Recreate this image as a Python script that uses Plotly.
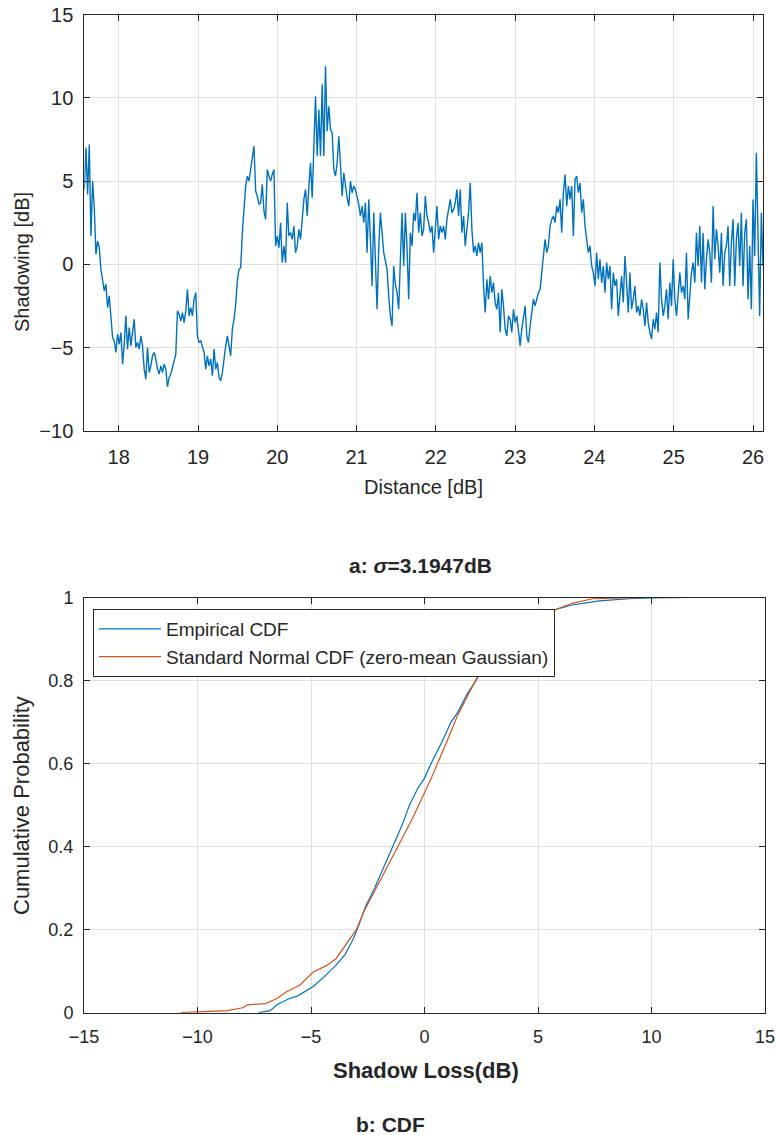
import numpy as np
import plotly.graph_objects as go

# ---- shadowing measurement (dB) over the distance axis (dB) ----
DIST_START_DB = 17.566
DIST_STOP_DB = 26.126

shadowing_db = [
    4.5, 7.0, 4.2, 7.2, 1.7, 5.0, 3.4, 0.6, 1.4, 1.0,
    -0.3, -1.0, -1.6, -1.2, -2.6, -1.9, -3.4, -4.4, -4.6, -5.3,
    -4.2, -4.8, -4.1, -6.0, -4.8, -3.1, -5.1, -3.8, -4.9, -4.1,
    -3.3, -5.0, -4.7, -5.1, -4.3, -4.9, -6.3, -6.9, -5.0, -6.5,
    -6.1, -5.5, -5.3, -5.7, -6.3, -6.6, -6.1, -6.5, -6.0, -6.3,
    -7.35, -6.8, -6.6, -6.2, -5.8, -5.4, -2.8, -3.0, -3.4, -2.9,
    -3.5, -2.8, -1.5, -3.1, -2.6, -3.1, -2.1, -1.7, -4.3, -4.7,
    -4.6, -4.9, -5.3, -6.3, -5.5, -6.1, -5.7, -6.7, -5.1, -6.3,
    -5.9, -6.8, -7.0, -6.5, -5.5, -4.9, -4.3, -4.9, -5.5, -3.9,
    -3.3, -2.4, -1.0, -0.3, -0.2, 1.9, 3.5, 4.7, 5.3, 5.0,
    5.7, 6.5, 7.1, 4.4, 4.1, 3.6,
    3.7, 4.8, 3.2, 2.7, 5.7, 5.3, 5.0, 5.4, 5.7, 1.1,
    1.7, 1.0, 2.5, 0.1, 1.1, 0.1, 3.7, 1.7, 1.9, 1.5,
    2.3, 0.7, 1.1, 2.1, 1.5, 2.7, 3.9, 4.5, 2.9, 4.7,
    6.1, 4.0, 6.7, 10.1, 6.5, 9.3, 6.5, 10.8, 6.5, 11.9,
    8.0, 9.5, 8.1, 7.9, 5.7, 5.3, 6.1, 7.7, 6.0, 4.1,
    5.5, 4.7, 4.0, 3.5, 5.0, 4.3, 4.7, 4.5, 4.1, 3.6,
    2.9, 3.5, 2.5, 3.7, 0.7, 3.9, 1.5, -1.3, 3.1, -0.3,
    -2.7, 1.0, 3.1, 1.9, 0.7, 0.2, -0.3, -1.9, -3.1, -3.7,
    -0.1, -1.2, -1.7, -2.7, 1.0, 3.1, -0.1, 3.1, 1.0, -2.1,
    1.9, 1.1, 3.1, 2.6, 4.3, 1.9, 3.1, 1.7, 2.1, 4.1,
    2.9, 2.5, 1.9, 2.3, 0.7, 1.9, 3.5, 1.5,
    2.3, 1.9, 2.3, 1.5, 2.7, 3.3, 3.9, 3.1, 3.3, 3.7,
    4.5, 2.9, 4.5, 1.9, 2.9, 1.1, 2.1, 3.1, 4.9, 2.1,
    0.7, 1.1, 0.5, 1.3, 0.7, 1.3, -1.3, -2.9, -0.9, -2.1,
    -0.7, -1.7, -1.1, -2.3, -2.7, -1.7, -4.1, -1.5, -2.5, -3.9,
    -4.3, -3.1, -3.3, -4.1, -2.7, -3.5, -3.1, -4.1, -4.9, -3.9,
    -3.3, -2.5, -4.3, -4.7, -3.7, -2.9, -2.1, -2.5, -2.1, -1.7,
    -1.5, -0.5, 0.1, 1.5, 0.7, 1.1, 2.3, 2.7, 2.9, 2.5,
    3.5, 3.1, 3.9, 1.9, 4.3, 5.4, 3.5, 4.7, 3.9, 4.7,
    1.7, 5.1, 5.3, 4.3, 4.9, 3.1, 3.9, 2.3, 1.5, 0.7,
    1.1, -0.1, -0.5, -1.3, 0.7, -0.9, 0.3, -1.1, -0.1, -1.7,
    0.1, -0.9, -0.1, -2.7, -0.5, -1.3, -0.9, -3.1,
    -1.9, -0.7, -2.3, 0.5, -1.1, -2.9, -0.5, -2.7, -2.1, -1.3,
    -2.9, -2.5, -3.1, -2.1, -2.7, -3.7, -2.3, -3.5, -4.1, -4.5,
    -3.3, -3.9, -2.9, -4.1, 0.1, -2.1, -3.1, -2.5, -1.5, -3.3,
    -1.1, -2.5, 0.3, -2.1, -3.1, -1.7, -0.5, -1.7, -1.3, -2.1,
    0.7, -3.3, -1.7, -0.5, 0.1, -1.1, 1.9, -0.1, 2.3, -1.1,
    1.9, -1.5, 0.3, 1.5, 0.7, -1.1, 3.5, 0.3, 2.1, 1.1,
    -0.5, 1.9, -1.3, 0.7, 1.1, 2.3, -1.3, 1.3, 2.7, -1.3,
    1.5, 2.5, -0.1, 3.1, -1.3, 1.9, 2.7, -2.1, 1.1, -2.7,
    3.9, 0.5, 6.7, 1.5, -3.1, 3.1, -0.1,
]

# ---- empirical CDF of the shadow loss ----
ecdf_loss_db = [-7.3, -6.8, -6.5, -6.0, -5.6, -4.9, -4.33, -3.89, -3.5, -3.15,
                -2.9, -2.6, -2.2, -1.8, -1.39, -1.0, -0.66, -0.3, 0.0, 0.29,
                0.75, 1.17, 1.47, 1.9, 2.27, 2.71, 3.5, 4.5, 5.5, 5.94,
                6.5, 7.7, 9.0, 10.0, 11.73]
ecdf_prob = [0.0, 0.005, 0.019, 0.033, 0.04, 0.063, 0.091, 0.115, 0.14, 0.176,
             0.21, 0.255, 0.30, 0.35, 0.40, 0.45, 0.50, 0.54, 0.565, 0.60,
             0.65, 0.70, 0.724, 0.77, 0.80, 0.845, 0.895, 0.94, 0.966, 0.974,
             0.982, 0.992, 0.997, 0.999, 1.0]

# ---- reference zero-mean Gaussian CDF curve ----
SIGMA_DB = 3.1947
gauss_loss_db = [-10.75, -9.9, -8.7, -8.0, -7.8, -7.0, -6.5, -6.1, -5.5, -4.9,
                 -4.3, -3.9, -3.6, -3.0, -2.7, -2.27, -1.83, -1.17, -0.51, 0.0,
                 0.3, 1.0, 1.45, 2.2, 2.7, 3.5, 4.5, 5.5, 5.94, 6.5, 7.4, 8.5, 9.6]
gauss_prob = [0.0, 0.002, 0.005, 0.012, 0.019, 0.022, 0.034, 0.05, 0.066, 0.098,
              0.114, 0.13, 0.154, 0.2, 0.24, 0.285, 0.33, 0.40, 0.47, 0.53,
              0.565, 0.655, 0.715, 0.795, 0.845, 0.90, 0.94, 0.965, 0.974, 0.986,
              0.997, 0.999, 1.0]

X_TICKS_TOP = [18, 19, 20, 21, 22, 23, 24, 25, 26]
Y_TICKS_TOP = [-10, -5, 0, 5, 10, 15]
X_TICKS_BOT = [-15, -10, -5, 0, 5, 10, 15]
Y_TICKS_BOT = [0, 0.2, 0.4, 0.6, 0.8, 1]
Y_TICKTEXT_BOT = ["0", "0.2", "0.4", "0.6", "0.8", "1"]

BLUE = "#0072BD"
ORANGE = "#D95319"
AXIS = "#262626"
GRID = "#dfdfdf"
FONT = "Liberation Sans, Arial, Helvetica, sans-serif"

W, H = 776, 1135

distance_db = np.linspace(DIST_START_DB, DIST_STOP_DB, len(shadowing_db))

fig = go.Figure()

fig.add_trace(go.Scatter(x=distance_db, y=shadowing_db, mode="lines",
                         line=dict(color=BLUE, width=1.4),
                         xaxis="x", yaxis="y", showlegend=False))

fig.add_trace(go.Scatter(x=ecdf_loss_db, y=ecdf_prob, mode="lines",
                         name="Empirical CDF",
                         line=dict(color=BLUE, width=1.2),
                         xaxis="x2", yaxis="y2"))
fig.add_trace(go.Scatter(x=gauss_loss_db, y=gauss_prob, mode="lines",
                         name="Standard Normal CDF (zero-mean Gaussian)",
                         line=dict(color=ORANGE, width=1.2),
                         xaxis="x2", yaxis="y2"))


def px_x(p):
    return p / W


def px_y(p):
    return 1 - p / H


axis_common = dict(showgrid=True, gridcolor=GRID, gridwidth=1,
                   ticks="inside", ticklen=6, tickcolor=AXIS, tickwidth=1,
                   showline=True, linecolor=AXIS, linewidth=1, mirror="ticks",
                   zeroline=False, color=AXIS, automargin=False)

fig.update_layout(
    width=W, height=H,
    margin=dict(l=0, r=0, t=0, b=0, autoexpand=False),
    paper_bgcolor="white", plot_bgcolor="white",
    font=dict(family=FONT, color=AXIS),
    xaxis=dict(domain=[px_x(84.3), px_x(763)], range=[DIST_START_DB, DIST_STOP_DB],
               tickvals=X_TICKS_TOP, anchor="y", tickfont=dict(size=20),
               ticklabelstandoff=8, **axis_common),
    yaxis=dict(domain=[px_y(430.7), px_y(14.7)], range=[-10, 15],
               tickvals=Y_TICKS_TOP, anchor="x", tickfont=dict(size=20),
               ticklabelstandoff=6, **axis_common),
    xaxis2=dict(domain=[px_x(84), px_x(765)], range=[-15, 15],
                tickvals=X_TICKS_BOT, anchor="y2", tickfont=dict(size=18),
                ticklabelstandoff=8, **axis_common),
    yaxis2=dict(domain=[px_y(1012.7), px_y(597.5)], range=[0, 1],
                tickvals=Y_TICKS_BOT, ticktext=Y_TICKTEXT_BOT, anchor="x2",
                tickfont=dict(size=18), ticklabelstandoff=6, **axis_common),
    legend=dict(x=px_x(93), y=px_y(609), xanchor="left", yanchor="top",
                bgcolor="white", bordercolor=AXIS, borderwidth=1,
                font=dict(size=19, color=AXIS), itemwidth=62,
                tracegroupgap=0),
)

annotations = [
    dict(text="Shadowing [dB]", x=px_x(22), y=px_y(262), textangle=-90,
         font=dict(size=20)),
    dict(text="Distance [dB]", x=px_x(424), y=px_y(487), font=dict(size=20)),
    dict(text="<b>a: <i>σ</i>=3.1947dB</b>", x=px_x(421), y=px_y(565),
         font=dict(size=21)),
    dict(text="Cumulative Probability", x=px_x(22), y=px_y(806), textangle=-90,
         font=dict(size=22)),
    dict(text="<b>Shadow Loss(dB)</b>", x=px_x(426), y=px_y(1070),
         font=dict(size=22)),
    dict(text="<b>b: CDF</b>", x=px_x(390), y=px_y(1124), font=dict(size=21)),
]
for a in annotations:
    fig.add_annotation(xref="paper", yref="paper", showarrow=False,
                       xanchor="center", yanchor="middle", **a)

fig.write_html("out.html")
